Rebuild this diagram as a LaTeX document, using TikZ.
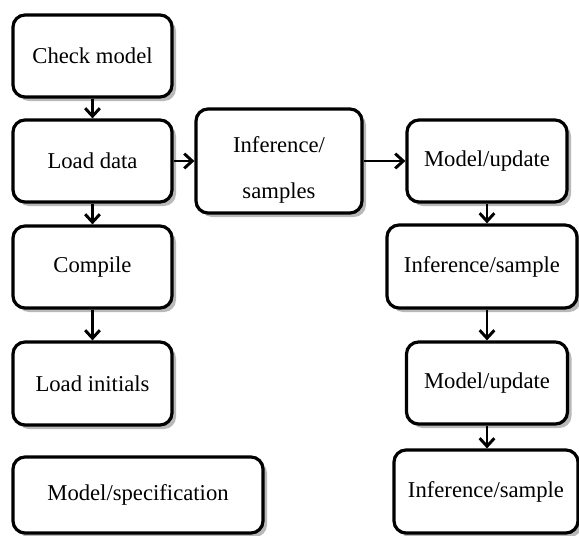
\documentclass[tikz,border=0pt]{standalone}
\usepackage{fontspec}
\setmainfont{Liberation Serif}
\usetikzlibrary{arrows.meta,shadows}

\begin{document}
\begin{tikzpicture}[x=0.75pt, y=-0.75pt, line width=2.2pt,
    block/.style = {draw, line width=2.4pt, rounded corners=9pt, fill=white, inner sep=0pt, align=center,
        font=\fontsize{17}{20.4}\selectfont,
        drop shadow={shadow xshift=3pt, shadow yshift=-3pt, fill=black!55}},
    flow/.style = {-{Straight Barb[length=6pt, width=11pt, line width=2.2pt]}}]
        \useasboundingbox (0,0) rectangle (579,536);
        % left column
        \node[block, minimum width=119.25pt, minimum height=61.5pt] (check) at (92.5,56) {Check model};
        \node[block, minimum width=119.25pt, minimum height=61.5pt] (load) at (92.5,161) {Load data};
        \node[block, minimum width=119.25pt, minimum height=61.5pt] (compile) at (92.5,267) {Compile};
        \node[block, minimum width=119.25pt, minimum height=62.25pt] (initials) at (92.5,383.5) {Load initials};
        \node[block, minimum width=187.5pt, minimum height=57pt] (spec) at (138,495) {Model/specification};
        % middle
        \node[block, minimum width=124.5pt, minimum height=78pt] (infer) at (279,161) {\rule{0pt}{26pt}Inference/\\[14pt]samples};
        % right column
        \node[block, minimum width=120pt, minimum height=61.5pt] (update1) at (487,161) {Model/update};
        \node[block, minimum width=142.5pt, minimum height=62.25pt] (sample1) at (482,266.5) {Inference/sample};
        \node[block, minimum width=120.75pt, minimum height=61.5pt] (update2) at (487,383) {Model/update};
        \node[block, minimum width=138pt, minimum height=62.25pt] (sample2) at (486,491.5) {Inference/sample};
        % arrows
        \draw[flow] (check) -- (load);
        \draw[flow] (load) -- (compile);
        \draw[flow] (compile) -- (initials);
        \draw[flow] (load) -- (infer);
        \draw[flow] (infer) -- (update1);
        \draw[flow] (update1) -- (update1 |- sample1.north);
        \draw[flow] (sample1.south -| update2) -- (update2);
        \draw[flow] (update2) -- (update2 |- sample2.north);
    \end{tikzpicture}
\end{document}
